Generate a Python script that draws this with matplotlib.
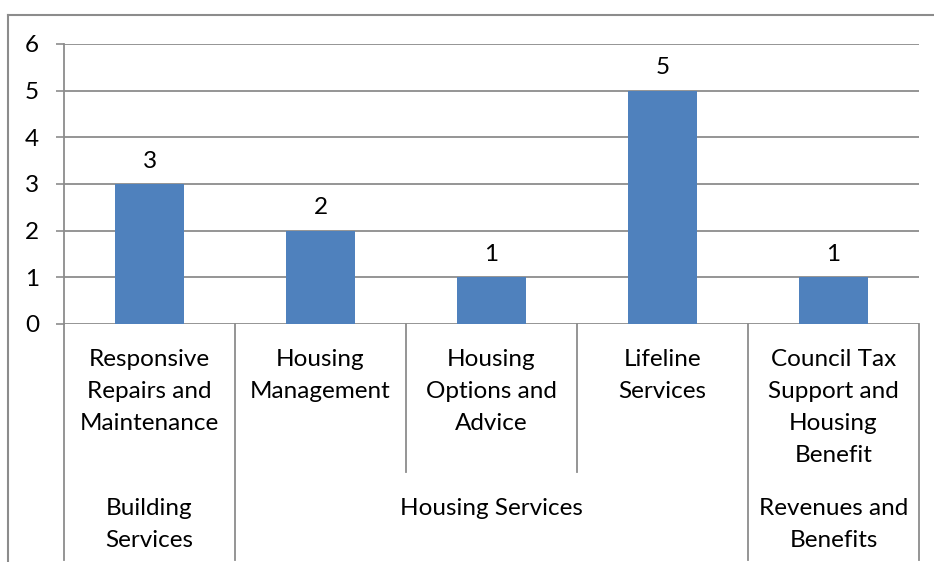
import matplotlib.pyplot as plt
from matplotlib.lines import Line2D
import matplotlib.transforms as mtransforms

plt.rcParams['font.family'] = ['Lato', 'DejaVu Sans']

categories = ['Responsive\nRepairs and\nMaintenance', 'Housing\nManagement',
              'Housing\nOptions and\nAdvice', 'Lifeline\nServices',
              'Council Tax\nSupport and\nHousing\nBenefit']
values = [3, 2, 1, 5, 1]
groups = ['Building\nServices', 'Housing Services', 'Revenues and\nBenefits']
group_spans = [(0, 1), (1, 4), (4, 5)]

W, H = 934, 562
fig = plt.figure(figsize=(W / 100, H / 100), dpi=100)
ax = fig.add_axes([64 / W, 1 - 324 / H, (919 - 64) / W, 280 / H])

bar_color = '#4F81BD'
grid_color = '#8C8C8C'
fs = 17.5

x = [i + 0.5 for i in range(len(values))]
ax.bar(x, values, width=0.4, color=bar_color, zorder=3)
for xi, v in zip(x, values):
    ax.annotate(str(v), (xi, v), xytext=(0, 9), textcoords='offset points',
                ha='center', va='bottom', fontsize=fs)

ax.set_xlim(0, 5)
ax.set_ylim(0, 6)
ax.set_yticks(range(7))
ax.tick_params(axis='y', labelsize=fs, length=6, width=1.2, color=grid_color, pad=12)
ax.set_xticks([])
ax.yaxis.grid(True, color=grid_color, linewidth=1.3, zorder=0)
for s in ['top', 'right', 'bottom']:
    ax.spines[s].set_visible(False)
ax.spines['left'].set_color(grid_color)
ax.spines['left'].set_linewidth(1.3)
ax.spines['left'].set_zorder(4)

tr = mtransforms.blended_transform_factory(ax.transData, ax.transAxes)
# category dividers
full = -236 / 280
short = -148 / 280
for xd, yb in [(0, full), (1, full), (2, short), (3, short), (4, full), (5, full)]:
    ax.plot([xd, xd], [0, yb], color=grid_color, lw=1.3, transform=tr, clip_on=False)

# category labels
for xi, lab in zip(x, categories):
    ax.text(xi, -25 / 280, lab, transform=tr, ha='center', va='top',
            fontsize=fs, linespacing=1.65)

# group labels
for (a, b), g in zip(group_spans, groups):
    ax.text((a + b) / 2, -174 / 280, g, transform=tr, ha='center', va='top',
            fontsize=fs, linespacing=1.65)

# outer frame
fig.add_artist(Line2D([8 / W, 1], [1 - 15 / H, 1 - 15 / H], color=grid_color, lw=1.5,
                      transform=fig.transFigure))
fig.add_artist(Line2D([8 / W, 8 / W], [1 - 15 / H, 0], color=grid_color, lw=1.5,
                      transform=fig.transFigure))

fig.savefig('out.png', dpi=100)
